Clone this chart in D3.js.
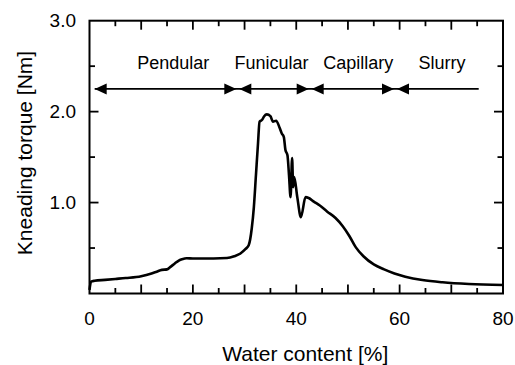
<!DOCTYPE html>
<html>
<head>
<meta charset="utf-8">
<script src="https://cdn.jsdelivr.net/npm/d3@7"></script>
<style>
  html, body { margin: 0; padding: 0; background: #fff; }
  svg { display: block; }
  text { font-family: "Liberation Sans", Arial, Helvetica, sans-serif; fill: #000; }
</style>
</head>
<body>
<svg id="chart" width="515" height="365"></svg>
<script>
// ---- data ----
const waterContent = [0, 0.3, 1, 3, 5, 7, 10, 12, 13, 14, 15, 15.6, 16.5, 17.2, 17.9, 18.8, 20, 22, 24, 26.6, 28, 29.2, 30.2, 30.8, 31.4, 31.8, 32.2, 32.6, 32.9, 33.4, 33.8, 34.3, 35.0, 35.5, 36.1, 36.8, 37.2, 37.6, 37.9, 38.3, 38.6, 38.9, 39.2, 39.4, 39.6, 40.2, 40.9, 41.8, 42.4, 43.4, 44.5, 46.0, 47.6, 49.0, 50.3, 51.5, 53.0, 55.0, 57.0, 59.0, 61.1, 64.4, 68.3, 73.4, 80];
const torque = [0.04, 0.13, 0.14, 0.15, 0.16, 0.17, 0.19, 0.22, 0.24, 0.26, 0.265, 0.29, 0.33, 0.36, 0.376, 0.387, 0.385, 0.385, 0.385, 0.39, 0.41, 0.44, 0.49, 0.53, 0.72, 0.95, 1.30, 1.65, 1.89, 1.91, 1.95, 1.97, 1.95, 1.89, 1.90, 1.82, 1.76, 1.72, 1.58, 1.52, 1.30, 1.06, 1.49, 1.17, 1.28, 1.06, 0.84, 1.06, 1.05, 1.01, 0.97, 0.90, 0.83, 0.74, 0.63, 0.51, 0.41, 0.32, 0.265, 0.22, 0.185, 0.148, 0.123, 0.104, 0.093];

const phaseNames = ["Pendular", "Funicular", "Capillary", "Slurry"];
const phaseBounds = [1.0, 28.7, 42.7, 59.2, 75.3];   // water content [%]
const phaseLabelAt = [16.2, 35.2, 52.0, 68.2];      // water content [%]
const phaseArrowLevel = 2.25;                        // Nm
const phaseLabelLevel = 2.47;                        // Nm

const xTickLabels = [0, 20, 40, 60, 80];
const yTickLabels = [1.0, 2.0, 3.0];
const xDomain = [0, 80];
const yDomain = [0, 3];

// ---- layout ----
const mLeft = 89.5, mRight = 503, mTop = 20.7, mBottom = 293.5;
const svg = d3.select("#chart");
const x = d3.scaleLinear().domain(xDomain).range([mLeft, mRight]);
const y = d3.scaleLinear().domain(yDomain).range([mBottom, mTop]);

const majorLen = 9, minorLen = 5.5;

const xMinor = d3.range(0, 80.01, 5);
const yMinor = d3.range(0, 3.001, 0.5);
const isMajX = v => Math.abs(v % 10) < 1e-6;
const isMajY = v => Math.abs(v - Math.round(v)) < 1e-6;

function drawXTicks(yPos, dir) {
  svg.append("g").selectAll("line").data(xMinor.filter(v => v > 0 && v < 80)).join("line")
    .attr("x1", d => x(d)).attr("x2", d => x(d))
    .attr("y1", yPos).attr("y2", d => yPos + dir * (isMajX(d) ? majorLen : minorLen))
    .attr("stroke", "#000").attr("stroke-width", 1.8);
}
function drawYTicks(xPos, dir) {
  svg.append("g").selectAll("line").data(yMinor.filter(v => v > 0 && v < 3)).join("line")
    .attr("y1", d => y(d)).attr("y2", d => y(d))
    .attr("x1", xPos).attr("x2", d => xPos + dir * (isMajY(d) ? majorLen : minorLen))
    .attr("stroke", "#000").attr("stroke-width", 1.8);
}
drawXTicks(mBottom, -1);
drawXTicks(mTop, 1);
drawYTicks(mLeft, 1);
drawYTicks(mRight, -1);

// frame
svg.append("rect")
  .attr("x", mLeft).attr("y", mTop)
  .attr("width", mRight - mLeft).attr("height", mBottom - mTop)
  .attr("fill", "none").attr("stroke", "#000").attr("stroke-width", 2);

// tick labels
svg.append("g").selectAll("text").data(xTickLabels).join("text")
  .attr("x", d => x(d)).attr("y", 325)
  .attr("text-anchor", "middle").attr("font-size", 19)
  .text(d => d);
svg.append("g").selectAll("text").data(yTickLabels).join("text")
  .attr("x", 76).attr("y", d => y(d) + 6.5)
  .attr("text-anchor", "end").attr("font-size", 19)
  .text(d => d.toFixed(1));

// axis titles
svg.append("text")
  .attr("x", (mLeft + mRight) / 2 + 9).attr("y", 361)
  .attr("text-anchor", "middle").attr("font-size", 21)
  .text("Water content [%]");
svg.append("text")
  .attr("transform", `translate(32,153) rotate(-90)`)
  .attr("text-anchor", "middle").attr("font-size", 21)
  .text("Kneading torque [Nm]");

// phase arrows
const ay = y(phaseArrowLevel);
svg.append("line")
  .attr("x1", x(phaseBounds[0])).attr("x2", x(phaseBounds[phaseBounds.length - 1]))
  .attr("y1", ay).attr("y2", ay)
  .attr("stroke", "#000").attr("stroke-width", 1.8);

const headL = 12, headH = 5.5, gap = 1.5;
function arrowHead(tipX, dir) {
  return `M${tipX},${ay} L${tipX - dir * headL},${ay - headH} L${tipX - dir * headL},${ay + headH} Z`;
}
const heads = [arrowHead(x(phaseBounds[0]), -1)];
phaseBounds.slice(1, -1).forEach(b => {
  heads.push(arrowHead(x(b) - gap, 1));
  heads.push(arrowHead(x(b) + gap, -1));
});
svg.append("g").selectAll("path").data(heads).join("path")
  .attr("d", d => d).attr("fill", "#000");

svg.append("g").selectAll("text").data(phaseNames).join("text")
  .attr("x", (d, i) => x(phaseLabelAt[i])).attr("y", y(phaseLabelLevel))
  .attr("text-anchor", "middle").attr("font-size", 18)
  .text(d => d);

// curve
const line = d3.line().x(d => x(d[0])).y(d => y(d[1])).curve(d3.curveMonotoneX);
svg.append("path")
  .datum(waterContent.map((w, i) => [w, torque[i]]))
  .attr("d", line)
  .attr("fill", "none").attr("stroke", "#000")
  .attr("stroke-width", 2.6).attr("stroke-linejoin", "round");
</script>
</body>
</html>
